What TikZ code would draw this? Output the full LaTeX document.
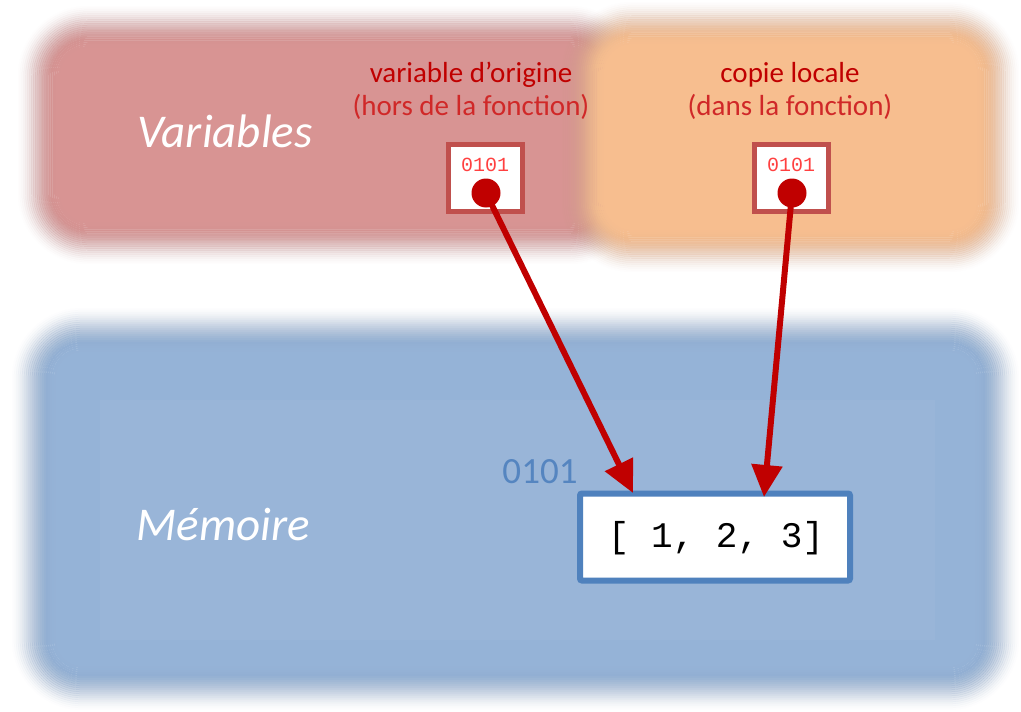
\documentclass[tikz,border=0pt]{standalone}
\usepackage{fontspec}
\setmainfont{Carlito}
\newfontfamily\monofont{Liberation Mono}
\usetikzlibrary{arrows.meta}
\definecolor{redrim}{RGB}{184,138,138}
\definecolor{redzone}{RGB}{216,148,147}
\definecolor{orrim}{RGB}{200,158,134}
\definecolor{orzone}{RGB}{247,190,143}
\definecolor{bluerim}{RGB}{130,152,184}
\definecolor{bluezone}{RGB}{149,179,215}
\definecolor{boxred}{RGB}{192,80,77}
\definecolor{darkred}{RGB}{192,0,0}
\definecolor{textred}{RGB}{208,40,40}
\definecolor{digitred}{RGB}{255,64,64}
\definecolor{memblue}{RGB}{79,129,189}
\definecolor{lblblue}{RGB}{85,133,192}
% soft-edged rounded box: x1 y1 x2 y2 zonecolour radius fadewidth rimcolour
\newcommand{\softbox}[8]{%
  \pgfmathsetmacro\rr{max(#6-#7,2)}%
  \pgfmathsetmacro\ii{#7*0.93}%
  \fill[#5, rounded corners={\rr pt}] ({#1+\ii},{#2+\ii}) rectangle ({#3-\ii},{#4-\ii});
  \foreach \i in {0,...,23}{%
    \pgfmathsetmacro\tt{(\i+0.5)*#7/24}%
    \pgfmathsetmacro\uu{(\i+0.5)/24}%
    \pgfmathsetmacro\aa{min(1,1.15*\uu*\uu*(3-2*\uu))}%
    \pgfmathtruncatemacro\pp{100*\uu*\uu*(3-2*\uu)}%
    \pgfmathsetmacro\rr{max(#6-\tt,2)}%
    \draw[draw=#5!\pp!#8, draw opacity=\aa, line width={#7/24*1.12}, rounded corners={\rr pt}]
      ({#1+\tt},{#2+\tt}) rectangle ({#3-\tt},{#4-\tt});
  }%
}
\tikzset{
  smallbox/.style={draw=boxred, line width=5pt, fill=white, minimum width=74pt, minimum height=67pt, inner sep=0pt},
  dot/.style={circle, fill=darkred, minimum size=29pt, inner sep=0pt},
  digits/.style={text=digitred, font=\monofont\fontsize{20}{22}\selectfont},
  ptr/.style={draw=darkred, line width=6pt, -{Triangle[width=30pt,length=32pt]}},
  title/.style={text=darkred, font=\fontsize{29}{32}\selectfont},
  subtitle/.style={text=textred, font=\fontsize{29}{32}\selectfont},
  zonelabel/.style={text=white, font=\itshape\fontsize{47}{50}\selectfont},
  membox/.style={draw=memblue, line width=6pt, fill=white, minimum width=270pt, minimum height=87pt, inner sep=0pt, rounded corners=2pt},
  memtext/.style={font=\monofont\fontsize{36}{40}\selectfont},
}
\begin{document}
\begin{tikzpicture}[x=1pt,y=-1pt]
\useasboundingbox (0,0) rectangle (1021,712);
\fill[white] (0,0) rectangle (1021,712);
% zones
\softbox{16}{4}{642}{266}{redzone}{72}{46}{redrim}
\softbox{560}{0}{1021}{274}{orzone}{72}{46}{orrim}
\softbox{10}{306}{1021}{712}{bluezone}{72}{48}{bluerim}
\fill[white, fill opacity=0.04] (100,400) rectangle (935,640);
% zone labels
\node[zonelabel] (lvar) at (225,131) {Variables};
\node[zonelabel] (lmem) at (223,524) {Mémoire};
% variable titles
\node[title] (t1) at (471,75) {variable d'origine};
\node[subtitle] (s1) at (471,107) {(hors de la fonction)};
\node[title] (t2) at (790,75) {copie locale};
\node[subtitle] (s2) at (790,107) {(dans la fonction)};
% small boxes
\node[smallbox] (b1) at (485,178) {};
\node[smallbox] (b2) at (791,178) {};
\node[digits] (n1) at (485,165) {0101};
\node[digits] (n2) at (791,165) {0101};
% memory
\node[membox] (mem) at (715,537) {};
\node[memtext] (arr) at (716,538) {[ 1, 2, 3]};
\node[text=lblblue, font=\fontsize{37}{40}\selectfont] (addr) at (540,472) {0101};
% pointers
\node[dot] (d1) at (486,193) {};
\node[dot] (d2) at (792,193) {};
\coordinate (e1) at (633,493);
\coordinate (e2) at (764,497);
\draw[ptr] (d1.center) -- (e1);
\draw[ptr] (d2.center) -- (e2);
\end{tikzpicture}
\end{document}
